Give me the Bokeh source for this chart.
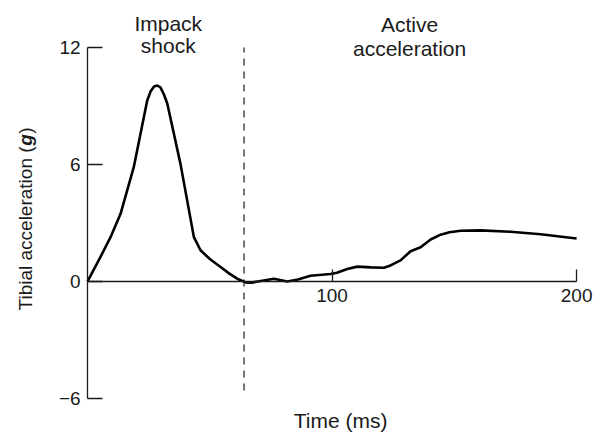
import math
from bokeh.plotting import figure
from bokeh.models import Range1d, Label, FixedTicker
from bokeh.embed import file_html
from bokeh.resources import INLINE

# ---- data ----
time_ms = [0, 5.3, 9.4, 13.5, 18.9, 24.4, 25.8, 27.2, 28.5, 29.8, 31.2, 32.6, 38.0,
           43.5, 46.2, 50, 54.4, 58, 61.2, 64.6, 67, 70.8, 76.2, 81.7, 86, 91.2,
           99.4, 102, 106.2, 110.3, 116, 121.2, 123.9, 128, 132.1, 136.2, 140.3,
           144.4, 148, 152.6, 160.7, 173.0, 185.3, 200]
accel_g = [0, 1.26, 2.27, 3.47, 5.86, 9.28, 9.75, 10.0, 10.05, 9.95, 9.6, 9.13, 6.03,
           2.27, 1.6, 1.15, 0.74, 0.4, 0.14, -0.05, -0.06, 0.02, 0.14, 0.0, 0.1, 0.29,
           0.38, 0.45, 0.64, 0.76, 0.72, 0.7, 0.82, 1.08, 1.55, 1.75, 2.15,
           2.4, 2.52, 2.6, 2.62, 2.55, 2.42, 2.2]

x_ticks = [100, 200]
y_ticks = [-6, 0, 6, 12]
y_tick_labels = {-6: "\u22126", 0: "0", 6: "6", 12: "12"}
x_axis_extent = (0, 200)
y_axis_extent = (-6, 12)

phase_boundary_ms = [64]
boundary_bottom_g = [-5.6]
boundary_top_g = [12]

phase1_lines = ["Impack", "shock"]
phase2_lines = ["Active", "acceleration"]
x_title = "Time (ms)"
y_title_parts = ["Tibial acceleration (", "g", ")"]

FONT = "Liberation Sans"
INK = "#1a1a1a"

p = figure(width=603, height=433,
           x_range=Range1d(-35.6, 211.0), y_range=Range1d(-7.8, 14.41),
           output_backend="svg", toolbar_location=None,
           min_border_left=0, min_border_right=0,
           min_border_top=0, min_border_bottom=0)
p.outline_line_color = None
p.xgrid.visible = False
p.ygrid.visible = False
p.background_fill_color = "white"
p.border_fill_color = "white"

# x axis sits on y = 0
xa = p.xaxis[0]
xa.fixed_location = 0
xa.bounds = x_axis_extent
xa.ticker = FixedTicker(ticks=x_ticks)
xa.minor_tick_line_color = None
xa.major_tick_in = 12
xa.major_tick_out = 0
xa.major_label_standoff = 8
xa.axis_line_width = 1.3
xa.axis_line_color = INK
xa.major_tick_line_color = INK
xa.major_tick_line_width = 1.3
xa.major_label_text_font = FONT
xa.major_label_text_font_size = "19px"
xa.major_label_text_color = INK

# y axis sits on x = 0
ya = p.yaxis[0]
ya.fixed_location = 0
ya.bounds = y_axis_extent
ya.ticker = FixedTicker(ticks=y_ticks)
ya.major_label_overrides = y_tick_labels
ya.minor_tick_line_color = None
ya.major_tick_in = 15
ya.major_tick_out = 0
ya.major_label_standoff = 7
ya.axis_line_width = 1.3
ya.axis_line_color = INK
ya.major_tick_line_color = INK
ya.major_tick_line_width = 1.3
ya.major_label_text_font = FONT
ya.major_label_text_font_size = "19px"
ya.major_label_text_color = INK

# phase boundary
p.segment(x0=phase_boundary_ms, y0=boundary_bottom_g,
          x1=phase_boundary_ms, y1=boundary_top_g,
          line_color=INK, line_width=1.2, line_dash="7 6")

# curve
p.line(time_ms, accel_g, line_color="black", line_width=2.6, line_join="round")

def lab(text, x, y, size="21px", **kw):
    p.add_layout(Label(x=x, y=y, text=text, text_font=FONT, text_font_size=size,
                       text_color=INK, **kw))

lab(phase1_lines[0], 33, 13.23, text_align="center", text_baseline="alphabetic")
lab(phase1_lines[1], 33, 12.10, text_align="center", text_baseline="alphabetic")
lab(phase2_lines[0], 131.7, 13.18, text_align="center", text_baseline="alphabetic")
lab(phase2_lines[1], 131.7, 11.95, text_align="center", text_baseline="alphabetic")

lab(x_title, 103.5, -7.12, text_align="center", text_baseline="alphabetic")

# rotated y title with bold-italic g
ang = math.pi / 2
lab(y_title_parts[0], -25.2, -1.49, size="19px", angle=ang,
    text_align="left", text_baseline="middle")
lab(y_title_parts[1], -25.2, 6.96, size="19px", angle=ang,
    text_align="left", text_baseline="middle", text_font_style="bold italic")
lab(y_title_parts[2], -25.2, 7.57, size="19px", angle=ang,
    text_align="left", text_baseline="middle")

open("out.html", "w").write(file_html(p, INLINE))
